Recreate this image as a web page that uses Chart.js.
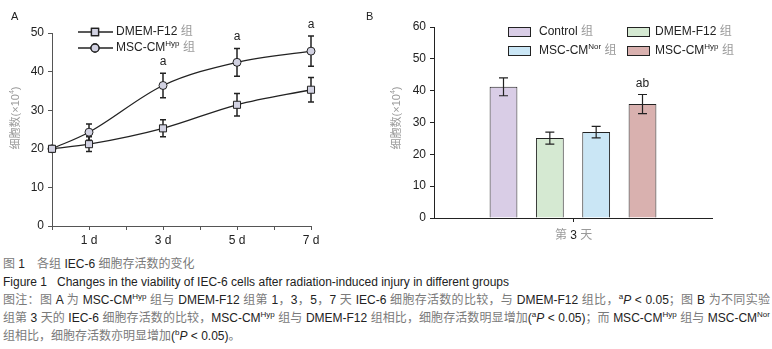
<!DOCTYPE html>
<html>
<head>
<meta charset="utf-8">
<script src="https://cdn.jsdelivr.net/npm/chart.js@4.4.1/dist/chart.umd.min.js"></script>
<style>
  body { margin: 0; background: #fff; width: 772px; height: 349px; overflow: hidden; position: relative;
         font-family: Arial, "Liberation Sans", "Noto Sans CJK SC", sans-serif; }
  #chartA { position: absolute; left: 0; top: 0; }
  #chartB { position: absolute; left: 360px; top: 0; }
  .cap { position: absolute; left: 3px; width: 767px; font-size: 12px; line-height: 18px; color: #222; white-space: nowrap; }
  .just { text-align: justify; text-align-last: justify; white-space: normal; }
  .cap .cjk { color: #7a7a7a; }
  .cap sup { font-size: 8px; line-height: 0; vertical-align: 5px; }
</style>
</head>
<body>
<canvas id="chartA" width="340" height="250"></canvas>
<canvas id="chartB" width="412" height="250"></canvas>

<div class="cap" style="top:255px">图 1　各组 IEC-6 细胞存活数的变化</div>
<div class="cap" style="top:273px">Figure 1&nbsp;&nbsp;&nbsp;Changes in the viability of IEC-6 cells after radiation-induced injury in different groups</div>
<div class="cap just" style="top:291px">图注：图 A 为 MSC-CM<sup>Hyp</sup> 组与 DMEM-F12 组第 1，3，5，7 天 IEC-6 细胞存活数的比较，与 DMEM-F12 组比，<sup>a</sup><i>P</i> &lt; 0.05；图 B 为不同实验</div>
<div class="cap just" style="top:309px">组第 3 天的 IEC-6 细胞存活数的比较，MSC-CM<sup>Hyp</sup> 组与 DMEM-F12 组相比，细胞存活数明显增加(<sup>a</sup><i>P</i> &lt; 0.05)；而 MSC-CM<sup>Hyp</sup> 组与 MSC-CM<sup>Nor</sup></div>
<div class="cap" style="top:327px">组相比，细胞存活数亦明显增加(<sup>b</sup><i>P</i> &lt; 0.05)。</div>

<script>
// ---- data: panel A (cell count over days) ----
var days = [0, 1, 3, 5, 7];
var dmemA = [20, 21.2, 25.3, 31.4, 35.3];
var dmemErrA = [0, 1.9, 2.2, 2.9, 3.2];
var hypA = [20, 24.3, 36.4, 42.4, 45.3];
var hypErrA = [0, 2.1, 3.2, 3.6, 3.9];
var sigA = ['', '', 'a', 'a', 'a'];
var seriesNamesA = ['DMEM-F12', 'MSC-CM'];
var seriesSupA = ['', 'Hyp'];

// ---- data: panel B (day 3) ----
var groupsB = ['Control', 'DMEM-F12', 'MSC-CM', 'MSC-CM'];
var groupSupB = ['', '', 'Nor', 'Hyp'];
var day3 = [41.2, 25.1, 27.0, 35.8];
var day3Err = [2.8, 1.9, 1.8, 3.0];
var sigB = ['', '', '', 'ab'];

var barColors = ['#d9cde6', '#d5e9d2', '#cae6f5', '#d9b1af'];
var FONT = 'Arial, "Liberation Sans", "Noto Sans CJK SC", sans-serif';

Chart.defaults.font.family = FONT;
Chart.defaults.font.size = 12;
Chart.defaults.color = '#222';

// colour CJK runs of the caption grey
document.querySelectorAll('.cap').forEach(function(el) {
  if (el.style.top === '273px') return;
  el.innerHTML = el.innerHTML.replace(/([\u3000-\u303f\u4e00-\u9fff\uff00-\uffef]+)/g, '<span class="cjk">$1</span>');
});

// draws text made of parts: [text, kind]  kind n = normal, s = superscript, c = grey cjk
function richText(ctx, parts, x, y, size, color) {
  parts.forEach(function(p) {
    var fs = p[1] === 's' ? Math.round(size * 0.65) : size;
    ctx.font = fs + 'px ' + FONT;
    ctx.fillStyle = p[1] === 'c' ? '#9a9a9a' : (color || '#222');
    ctx.fillText(p[0], x, p[1] === 's' ? y - size * 0.38 : y);
    x += ctx.measureText(p[0]).width;
  });
  return x;
}

function yTitle(ctx, cx, cy) {
  ctx.save();
  ctx.translate(cx, cy);
  ctx.rotate(-Math.PI / 2);
  ctx.textBaseline = 'middle';
  ctx.font = '11px ' + FONT;
  var parts = [['细胞数(×10', 'c'], ['4', 's'], [')', 'c']];
  var w = 0;
  parts.forEach(function(p) { ctx.font = (p[1] === 's' ? 7 : 11) + 'px ' + FONT; w += ctx.measureText(p[0]).width; });
  richText(ctx, parts, -w / 2, 0, 11, '#9a9a9a');
  ctx.restore();
}

function errorBars(ctx, xs, y, vals, errs, cap, lw) {
  ctx.save();
  ctx.strokeStyle = '#222';
  ctx.lineWidth = lw;
  vals.forEach(function(v, i) {
    if (!errs[i]) return;
    var px = xs(i), t = y.getPixelForValue(v + errs[i]), b = y.getPixelForValue(v - errs[i]);
    ctx.beginPath();
    ctx.moveTo(px, t); ctx.lineTo(px, b);
    ctx.moveTo(px - cap, t); ctx.lineTo(px + cap, t);
    ctx.moveTo(px - cap, b); ctx.lineTo(px + cap, b);
    ctx.stroke();
  });
  ctx.restore();
}

/* ---- Panel A: line chart ---- */
new Chart(document.getElementById('chartA'), {
  type: 'line',
  data: {
    datasets: [{
      data: days.map(function(d, i) { return { x: d, y: dmemA[i] }; }),
      borderColor: '#222', borderWidth: 1.3,
      pointStyle: 'rect', pointRadius: 5, pointBackgroundColor: '#d2d2e2', pointBorderColor: '#222', pointBorderWidth: 1,
      cubicInterpolationMode: 'monotone', clip: false
    }, {
      data: days.map(function(d, i) { return { x: d, y: hypA[i] }; }),
      borderColor: '#222', borderWidth: 1.3,
      pointStyle: 'circle', pointRadius: 4, pointBackgroundColor: '#d2d2e2', pointBorderColor: '#222', pointBorderWidth: 1,
      cubicInterpolationMode: 'monotone', clip: false
    }]
  },
  options: {
    responsive: false, animation: false,
    layout: { padding: { top: 33, right: 29, left: 0, bottom: 0 } },
    plugins: { legend: { display: false }, tooltip: { enabled: false } },
    scales: {
      x: {
        type: 'linear', min: 0, max: 7,
        afterFit: function(s) { s.height = 24; },
        ticks: { stepSize: 1, padding: 3, color: '#222', font: { size: 12 },
                 callback: function(v) { return v % 2 === 1 ? v + ' d' : ''; } },
        grid: { drawOnChartArea: false, tickLength: 4, color: '#555' },
        border: { color: '#555', width: 1 }
      },
      y: {
        min: 0, max: 50,
        afterFit: function(s) { s.width = 52; },
        ticks: { stepSize: 10, padding: 4, color: '#222', font: { size: 12 } },
        grid: { drawOnChartArea: false, tickLength: 4, color: '#555' },
        border: { color: '#555', width: 1 }
      }
    }
  },
  plugins: [{
    id: 'extrasA',
    beforeDatasetsDraw: function(chart) {
      var x = chart.scales.x, y = chart.scales.y, ctx = chart.ctx;
      var xs = function(i) { return x.getPixelForValue(days[i]); };
      errorBars(ctx, xs, y, dmemA, dmemErrA, 3, 1.5);
      errorBars(ctx, xs, y, hypA, hypErrA, 3, 1.5);
    },
    afterDraw: function(chart) {
      var x = chart.scales.x, y = chart.scales.y, ctx = chart.ctx;
      ctx.save();
      ctx.textBaseline = 'alphabetic';
      ctx.textAlign = 'center';
      ctx.font = '12px ' + FONT;
      ctx.fillStyle = '#222';
      sigA.forEach(function(s, i) {
        if (!s) return;
        ctx.fillText(s, x.getPixelForValue(days[i]), y.getPixelForValue(hypA[i] + hypErrA[i]) - 8);
      });
      ctx.textAlign = 'left';
      ctx.textBaseline = 'middle';
      ctx.font = '11px ' + FONT;
      ctx.fillText('A', 11, 17);
      // legend
      var styles = ['rect', 'circle'];
      seriesNamesA.forEach(function(n, i) {
        var ly = 32 + i * 16;
        ctx.strokeStyle = '#222'; ctx.lineWidth = 1.3;
        ctx.beginPath(); ctx.moveTo(78, ly); ctx.lineTo(113, ly); ctx.stroke();
        ctx.fillStyle = '#d2d2e2';
        Chart.helpers.drawPoint(ctx, { pointStyle: styles[i], radius: i ? 4 : 5, borderWidth: 1 }, 95, ly);
        ctx.fill(); ctx.stroke();
        var parts = [[n, 'n']];
        if (seriesSupA[i]) parts.push([seriesSupA[i], 's']);
        parts.push([' 组', 'c']);
        richText(ctx, parts, 116, ly, 12);
      });
      yTitle(ctx, 16, 118);
      ctx.restore();
    }
  }]
});

/* ---- Panel B: bar chart, day 3 ---- */
var padLabels = [''].concat(groupsB.map(function(g, i) { return g + groupSupB[i]; }), ['']);
new Chart(document.getElementById('chartB'), {
  type: 'bar',
  data: {
    labels: padLabels,
    datasets: [{
      data: [null].concat(day3, [null]),
      backgroundColor: ['#fff'].concat(barColors, ['#fff']),
      borderColor: '#222', borderWidth: 1,
      barPercentage: 0.6, categoryPercentage: 1
    }]
  },
  options: {
    responsive: false, animation: false,
    layout: { padding: { top: 27, right: 60, left: 0, bottom: 0 } },
    plugins: { legend: { display: false }, tooltip: { enabled: false } },
    scales: {
      x: {
        afterFit: function(s) { s.height = 32; },
        ticks: { display: false },
        grid: { offset: true, drawOnChartArea: false, tickLength: 4,
                color: function(c) { return c.index === 3 ? '#222' : 'rgba(0,0,0,0)'; } },
        border: { color: '#222', width: 1 }
      },
      y: {
        min: 0, max: 60,
        afterFit: function(s) { s.width = 74; },
        ticks: { stepSize: 10, padding: 4, color: '#222', font: { size: 12 } },
        grid: { drawOnChartArea: false, tickLength: 4, color: '#222' },
        border: { color: '#222', width: 1 }
      }
    }
  },
  plugins: [{
    id: 'extrasB',
    afterDatasetsDraw: function(chart) {
      var x = chart.scales.x, y = chart.scales.y, ctx = chart.ctx;
      var xs = function(i) { return x.getPixelForValue(i + 1); };
      errorBars(ctx, xs, y, day3, day3Err, 4.5, 1.2);
      ctx.save();
      ctx.textAlign = 'center';
      ctx.textBaseline = 'alphabetic';
      ctx.font = '12px ' + FONT;
      ctx.fillStyle = '#222';
      sigB.forEach(function(s, i) {
        if (!s) return;
        ctx.fillText(s, xs(i), y.getPixelForValue(day3[i] + day3Err[i]) - 7);
      });
      // x title
      ctx.textBaseline = 'middle';
      var parts = [['第 ', 'c'], ['3', 'n'], [' 天', 'c']];
      ctx.textAlign = 'left';
      richText(ctx, parts, 195, 236, 12);
      ctx.font = '11px ' + FONT;
      ctx.fillStyle = '#222';
      ctx.fillText('B', 6, 17);
      // legend
      groupsB.forEach(function(g, i) {
        var col = i % 2, row = Math.floor(i / 2);
        var bx = col ? 267 : 148, ly = 32 + row * 19;
        ctx.fillStyle = barColors[i];
        ctx.fillRect(bx, ly - 4.5, 22, 9);
        ctx.strokeStyle = '#222'; ctx.lineWidth = 1;
        ctx.strokeRect(bx + 0.5, ly - 4.5, 22, 9);
        var p = [[g, 'n']];
        if (groupSupB[i]) p.push([groupSupB[i], 's']);
        p.push([' 组', 'c']);
        richText(ctx, p, bx + (col ? 28 : 31), ly, 12);
      });
      yTitle(ctx, 37, 118);
      ctx.restore();
    }
  }]
});
</script>
</body>
</html>
